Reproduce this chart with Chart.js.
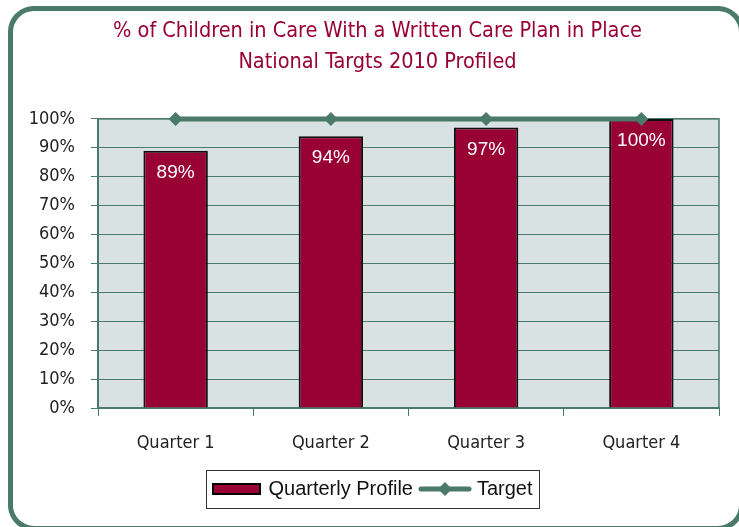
<!DOCTYPE html>
<html>
<head>
<meta charset="utf-8">
<script src="https://cdn.jsdelivr.net/npm/chart.js@4/dist/chart.umd.min.js"></script>
<style>
  html, body { margin: 0; padding: 0; background: #fff; }
  #wrap { position: relative; width: 739px; height: 527px; overflow: hidden; }
  #card {
    position: absolute; left: 8px; top: 6px; width: 736px; height: 525px;
    box-sizing: border-box; border: 5px solid #4a7a6a; border-radius: 26px;
  }
  #chart { position: absolute; left: 0; top: 0; }
</style>
</head>
<body>
<div id="wrap">
  <div id="card"></div>
  <canvas id="chart" width="739" height="527"></canvas>
</div>
<script>
// Chart content
const titleLines = ['% of Children in Care With a Written Care Plan in Place', 'National Targts 2010 Profiled'];
const quarters = ['Quarter 1', 'Quarter 2', 'Quarter 3', 'Quarter 4'];
const quarterlyProfile = [89, 94, 97, 100];
const target = [100, 100, 100, 100];
const seriesNames = ['Quarterly Profile', 'Target'];
const yTicks = [0, 10, 20, 30, 40, 50, 60, 70, 80, 90, 100];

const GREEN = '#4a7a6a';
const WINE = '#990033';
const PLOT_BG = '#d9e2e3';
const NARROW = "'Liberation Sans Narrow', 'Arial Narrow', 'DejaVu Sans Condensed', sans-serif";
const SANS = "'Liberation Sans', Arial, sans-serif";

// Legend swatches: a filled box for the bars, a line with a diamond for the target
function barSwatch() {
  const c = document.createElement('canvas');
  c.width = 49; c.height = 12;
  const g = c.getContext('2d');
  g.fillStyle = WINE;
  g.fillRect(1, 1, 47, 10);
  g.strokeStyle = '#000';
  g.lineWidth = 2;
  g.strokeRect(1, 1, 47, 10);
  return c;
}
function lineSwatch() {
  const c = document.createElement('canvas');
  c.width = 54; c.height = 16;
  const g = c.getContext('2d');
  g.strokeStyle = GREEN;
  g.lineWidth = 5;
  g.lineCap = 'round';
  g.beginPath(); g.moveTo(3, 8); g.lineTo(51, 8); g.stroke();
  g.fillStyle = GREEN;
  g.beginPath();
  g.moveTo(27, 1); g.lineTo(34, 8); g.lineTo(27, 15); g.lineTo(20, 8);
  g.closePath(); g.fill();
  return c;
}

// Plot background, legend frame, value labels
const decor = {
  id: 'decor',
  afterLayout(chart) {
    // centre title and legend a little right of the canvas middle
    chart.titleBlock.left += 8;
    chart.titleBlock.right += 8;
    chart.legend.left += 4;
    chart.legend.right += 4;
  },
  beforeDraw(chart) {
    const a = chart.chartArea, ctx = chart.ctx;
    ctx.save();
    ctx.fillStyle = PLOT_BG;
    ctx.fillRect(a.left, a.top, a.right - a.left, a.bottom - a.top);
    ctx.strokeStyle = GREEN;
    ctx.lineWidth = 1.5;
    ctx.strokeRect(a.left, a.top, a.right - a.left, a.bottom - a.top);
    ctx.restore();
  },
  afterDraw(chart) {
    const ctx = chart.ctx;
    const boxes = chart.legend.legendHitBoxes;
    if (boxes && boxes.length) {
      const l = Math.min(...boxes.map(b => b.left)) - 8.5;
      const r = Math.max(...boxes.map(b => b.left + b.width)) + 6;
      const cy = boxes[0].top + boxes[0].height / 2;
      ctx.save();
      ctx.strokeStyle = '#333';
      ctx.lineWidth = 1;
      ctx.strokeRect(Math.round(l) + 0.5, Math.round(cy - 19) + 0.5, Math.round(r - l), 38);
      ctx.restore();
    }
    const meta = chart.getDatasetMeta(0);
    ctx.save();
    ctx.fillStyle = '#ffffff';
    ctx.font = '19px ' + SANS;
    ctx.textAlign = 'center';
    ctx.textBaseline = 'middle';
    meta.data.forEach((bar, i) => {
      ctx.fillText(quarterlyProfile[i] + '%', bar.x, bar.y + 22);
    });
    ctx.restore();
  }
};

new Chart(document.getElementById('chart'), {
  type: 'bar',
  data: {
    labels: quarters,
    datasets: [
      {
        type: 'bar',
        label: seriesNames[0],
        data: quarterlyProfile,
        backgroundColor: WINE,
        borderColor: '#111',
        borderWidth: 2,
        barPercentage: 0.415,
        categoryPercentage: 1.0,
        order: 1
      },
      {
        type: 'line',
        label: seriesNames[1],
        data: target,
        borderColor: GREEN,
        borderWidth: 5,
        backgroundColor: GREEN,
        pointStyle: 'rectRot',
        pointRadius: 7,
        pointBorderWidth: 0,
        pointBackgroundColor: GREEN,
        clip: false,
        order: 0
      }
    ]
  },
  options: {
    responsive: false,
    animation: false,
    devicePixelRatio: 1,
    layout: { padding: { left: 20, right: 20, top: 0, bottom: 18 } },
    plugins: {
      title: {
        display: true,
        text: titleLines,
        color: WINE,
        font: { family: NARROW, size: 21.5, weight: 'normal', lineHeight: 1.44 },
        padding: { top: 16, bottom: 41 }
      },
      legend: {
        display: true,
        position: 'bottom',
        labels: {
          usePointStyle: true,
          pointStyleWidth: 44,
          padding: 10,
          color: '#111',
          font: { family: SANS, size: 20 },
          generateLabels(chart) {
            const swatches = [barSwatch(), lineSwatch()];
            return chart.data.datasets.map((ds, i) => ({
              text: ds.label,
              datasetIndex: i,
              pointStyle: swatches[i],
              fillStyle: 'transparent',
              strokeStyle: 'transparent',
              lineWidth: 0,
              fontColor: '#111',
              hidden: false
            }));
          }
        }
      },
      tooltip: { enabled: false }
    },
    scales: {
      x: {
        grid: {
          offset: true,
          drawOnChartArea: false,
          drawTicks: true,
          tickLength: 8,
          color: GREEN
        },
        border: { color: GREEN, width: 2 },
        ticks: {
          color: '#222',
          padding: 17,
          font: { family: NARROW, size: 18 }
        },
        afterFit(scale) { scale.height = 61; }
      },
      y: {
        min: 0,
        max: 100,
        afterBuildTicks(scale) { scale.ticks = yTicks.map(v => ({ value: v })); },
        grid: {
          color: GREEN,
          lineWidth: 1,
          drawTicks: true,
          tickLength: 7
        },
        border: { color: GREEN, width: 2 },
        ticks: {
          color: '#222',
          padding: 16,
          font: { family: NARROW, size: 18 },
          callback: v => v + '%'
        },
        afterFit(scale) { scale.width = 78; }
      }
    }
  },
  plugins: [decor]
});
</script>
</body>
</html>
